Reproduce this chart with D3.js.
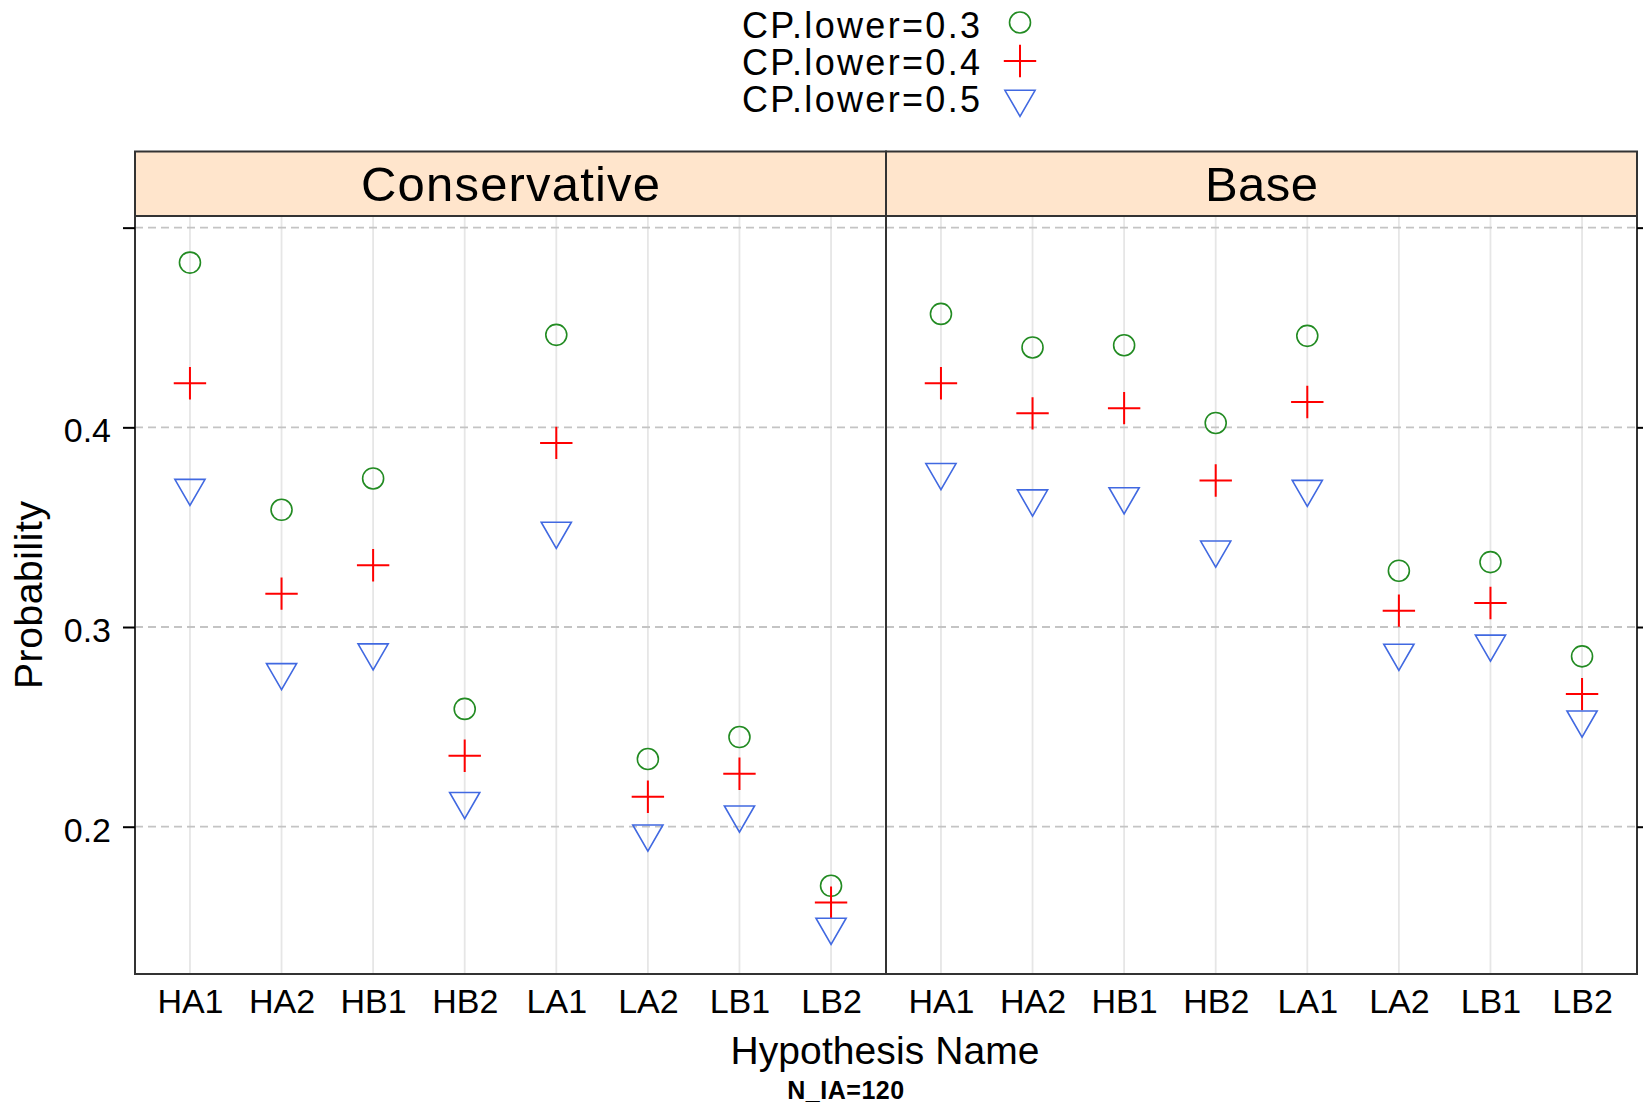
<!DOCTYPE html>
<html>
<head>
<meta charset="utf-8">
<script src="https://cdn.jsdelivr.net/npm/d3@7"></script>
<style>
  html, body { margin: 0; padding: 0; background: #ffffff; }
  svg { display: block; font-family: "Liberation Sans", Arial, sans-serif; }
</style>
</head>
<body>
<svg id="chart" width="1643" height="1105"></svg>
<script>
// Hypothesis names along the x axis of each panel
const categories = ["HA1", "HA2", "HB1", "HB2", "LA1", "LA2", "LB1", "LB2"];
// Panel (strip) titles
const panelNames = ["Conservative", "Base"];
// Series labels in the key
const seriesLabels = ["CP.lower=0.3", "CP.lower=0.4", "CP.lower=0.5"];

// Probabilities, Conservative scenario
const conservativeLow03 = [0.4825, 0.3587, 0.3744, 0.2590, 0.4463, 0.2339, 0.2449, 0.1704];
const conservativeLow04 = [0.4221, 0.3167, 0.3309, 0.2355, 0.3922, 0.2150, 0.2265, 0.1620];
const conservativeLow05 = [0.3696, 0.2773, 0.2872, 0.2128, 0.3481, 0.1965, 0.2060, 0.1498];

// Probabilities, Base scenario
const baseLow03 = [0.4568, 0.4400, 0.4411, 0.4022, 0.4458, 0.3282, 0.3325, 0.2853];
const baseLow04 = [0.4221, 0.4070, 0.4096, 0.3734, 0.4127, 0.3082, 0.3120, 0.2664];
const baseLow05 = [0.3775, 0.3643, 0.3654, 0.3387, 0.3691, 0.2870, 0.2916, 0.2536];

// y axis ticks and their labels (top tick carries no label)
const yTicks = [0.2, 0.3, 0.4, 0.5];
const yTickLabels = ["0.2", "0.3", "0.4", ""];
const yLimits = [0.12624, 0.50583];

const panelValues = {
  "Conservative": [conservativeLow03, conservativeLow04, conservativeLow05],
  "Base": [baseLow03, baseLow04, baseLow05]
};

const seriesColors = ["#228B22", "#FF0000", "#4169E1"];
const seriesShapes = ["circle", "plus", "triangleDown"];

const svg = d3.select("#chart");

const plotLeft = 135, plotRight = 1637;
const stripTop = 151.5, panelTop = 216, panelBottom = 974;
const panelWidth = (plotRight - plotLeft) / panelNames.length;
const frameColor = "#333333";

const y = d3.scaleLinear().domain(yLimits).range([panelBottom, panelTop]);

// symbol drawing helpers
function drawSymbol(g, shape, color, cx, cy) {
  if (shape === "circle") {
    g.append("circle").attr("cx", cx).attr("cy", cy).attr("r", 10.5)
      .attr("fill", "none").attr("stroke", color).attr("stroke-width", 1.6);
  } else if (shape === "plus") {
    const h = 16.2;
    g.append("path")
      .attr("d", `M${cx - h},${cy}H${cx + h}M${cx},${cy - h}V${cy + h}`)
      .attr("fill", "none").attr("stroke", color).attr("stroke-width", 2);
  } else {
    const xc = 11.2;
    const r = 1.5551 * xc, half = 1.3468 * xc, top = 0.7776 * xc;
    g.append("path")
      .attr("d", `M${cx - half},${cy - top}L${cx + half},${cy - top}L${cx},${cy + r}Z`)
      .attr("fill", "none").attr("stroke", color).attr("stroke-width", 1.6)
      .attr("stroke-linejoin", "miter");
  }
}

panelNames.forEach((name, pi) => {
  const left = plotLeft + pi * panelWidth;
  const right = left + panelWidth;
  const x = d3.scalePoint().domain(categories).range([left, right]).padding(0.6);
  const g = svg.append("g");

  // vertical reference lines at each hypothesis
  g.selectAll("line.vgrid").data(categories).join("line")
    .attr("class", "vgrid")
    .attr("x1", d => x(d)).attr("x2", d => x(d))
    .attr("y1", panelTop).attr("y2", panelBottom)
    .attr("stroke", "#e6e6e6").attr("stroke-width", 1.8);

  // dashed horizontal reference lines
  g.selectAll("line.hgrid").data(yTicks).join("line")
    .attr("class", "hgrid")
    .attr("x1", left).attr("x2", right)
    .attr("y1", d => y(d)).attr("y2", d => y(d))
    .attr("stroke", "#c4c4c4").attr("stroke-width", 1.8)
    .attr("stroke-dasharray", "8,5");

  // points for each series
  panelValues[name].forEach((vals, si) => {
    vals.forEach((v, ci) => {
      drawSymbol(g, seriesShapes[si], seriesColors[si], x(categories[ci]), y(v));
    });
  });

  // x axis labels
  const xAxis = d3.axisBottom(x).tickSize(0).tickPadding(0);
  const xg = svg.append("g").attr("transform", `translate(0,${panelBottom})`).call(xAxis);
  xg.select(".domain").remove();
  xg.selectAll("text")
    .attr("y", 38.5).attr("dy", null)
    .attr("font-size", 34).attr("fill", "#000")
    .attr("font-family", "'Liberation Sans', Arial, sans-serif");

  // panel frame
  svg.append("rect")
    .attr("x", left).attr("y", panelTop)
    .attr("width", panelWidth).attr("height", panelBottom - panelTop)
    .attr("fill", "none").attr("stroke", frameColor).attr("stroke-width", 2);

  // strip
  svg.append("rect")
    .attr("x", left).attr("y", stripTop)
    .attr("width", panelWidth).attr("height", panelTop - stripTop)
    .attr("fill", "#ffe5cc").attr("stroke", frameColor).attr("stroke-width", 2);
  svg.append("text")
    .attr("x", (left + right) / 2).attr("y", 201)
    .attr("text-anchor", "middle")
    .attr("font-size", 49)
    .attr("textLength", name === "Conservative" ? 299 : 113)
    .attr("lengthAdjust", "spacing")
    .attr("fill", "#000")
    .text(name);
});

// left axis: ticks with labels
const yAxisLeft = d3.axisLeft(y).tickValues(yTicks)
  .tickFormat((d, i) => yTickLabels[i]).tickSize(12).tickPadding(12);
const yl = svg.append("g").attr("transform", `translate(${plotLeft},0)`).call(yAxisLeft);
yl.select(".domain").remove();
yl.selectAll("line").attr("stroke", "#000").attr("stroke-width", 2);
yl.selectAll("text")
  .attr("x", -24).attr("dy", "0.43em")
  .attr("font-size", 34).attr("fill", "#000")
  .attr("font-family", "'Liberation Sans', Arial, sans-serif");

// right axis: tick marks only
const yAxisRight = d3.axisRight(y).tickValues(yTicks).tickFormat("").tickSize(12);
const yr = svg.append("g").attr("transform", `translate(${plotRight},0)`).call(yAxisRight);
yr.select(".domain").remove();
yr.selectAll("line").attr("stroke", "#000").attr("stroke-width", 2);

// y axis title
svg.append("text")
  .attr("transform", `translate(42,${(panelTop + panelBottom) / 2}) rotate(-90)`)
  .attr("text-anchor", "middle")
  .attr("font-size", 39)
  .attr("textLength", 188).attr("lengthAdjust", "spacing")
  .attr("fill", "#000")
  .text("Probability");

// x axis title
svg.append("text")
  .attr("x", 885).attr("y", 1064)
  .attr("text-anchor", "middle")
  .attr("font-size", 39)
  .attr("textLength", 309).attr("lengthAdjust", "spacing")
  .attr("fill", "#000")
  .text("Hypothesis Name");

// subtitle
svg.append("text")
  .attr("x", 845.7).attr("y", 1099)
  .attr("text-anchor", "middle")
  .attr("font-size", 25).attr("font-weight", "bold")
  .attr("textLength", 117).attr("lengthAdjust", "spacing")
  .attr("fill", "#000")
  .text("N_IA=120");

// key
const keyBaselines = [37.5, 75, 112];
const keySymbolY = [22.5, 61, 99];
seriesLabels.forEach((lab, i) => {
  svg.append("text")
    .attr("x", 980).attr("y", keyBaselines[i])
    .attr("text-anchor", "end")
    .attr("font-size", 36)
    .attr("textLength", 238).attr("lengthAdjust", "spacing")
    .attr("fill", "#000")
    .text(lab);
  drawSymbol(svg, seriesShapes[i], seriesColors[i], 1020, keySymbolY[i]);
});
</script>
</body>
</html>
